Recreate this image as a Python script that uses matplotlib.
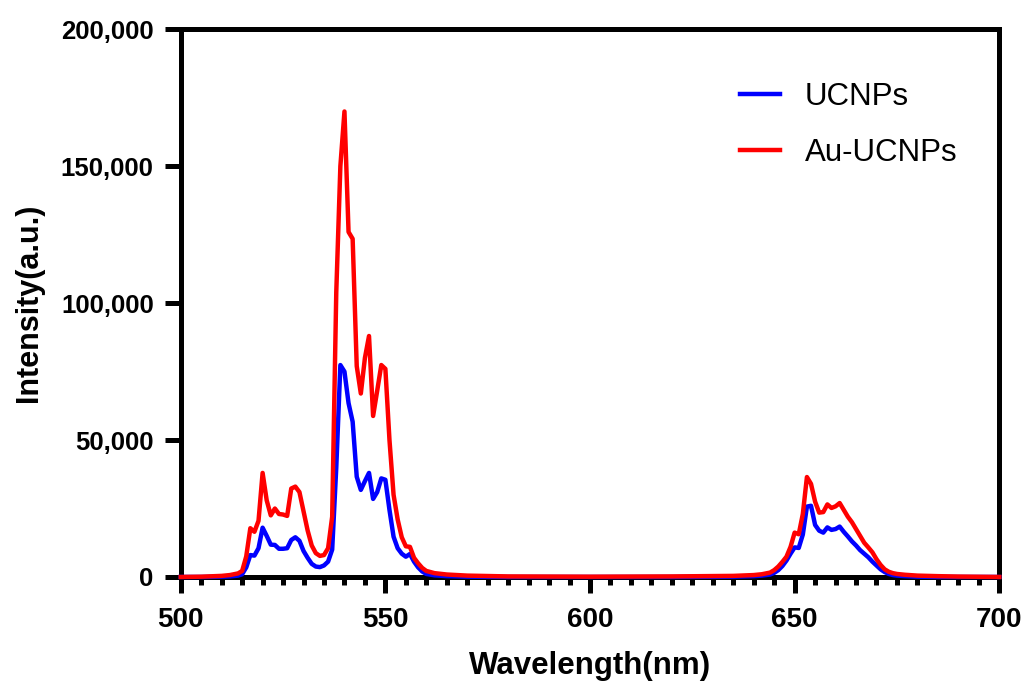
import numpy as np
import matplotlib
matplotlib.use('Agg')
import matplotlib.pyplot as plt
from matplotlib.ticker import MultipleLocator, FuncFormatter

# wavelengths (nm) and intensities
wavelength = [500, 505, 510, 512, 514, 515, 516, 517, 518, 519, 520, 521, 522, 523, 524,
              525, 526, 527, 528, 529, 530, 531, 532, 533, 534, 535, 536, 537, 538, 539,
              540, 541, 542, 543, 544, 545, 546, 547, 548, 549, 550, 551, 552, 553, 554,
              555, 556, 557, 558, 559, 560, 562, 565, 570, 580, 600, 620, 635, 640, 642,
              644, 645, 646, 647, 648, 649, 650, 651, 652, 653, 654, 655, 656, 657, 658,
              659, 660, 661, 662, 663, 664, 665, 666, 667, 668, 669, 670, 671, 672, 673,
              674, 675, 677, 680, 685, 690, 700]

ucnps = [0, 0, 100, 200, 500, 1000, 3500, 8000, 7800, 10500, 18000, 15000, 11800, 11700, 10300,
         10300, 10500, 13500, 14500, 13200, 9500, 7000, 4800, 3800, 3600, 4200, 5600, 10000, 40000, 77400,
         75000, 63500, 56700, 36600, 31800, 35000, 38000, 28500, 31000, 36000, 35500, 24500, 14700, 10500, 8500,
         7400, 8400, 5600, 3500, 2000, 1100, 600, 300, 100, 0, 0, 0, 100, 300, 500,
         900, 1500, 2500, 4000, 6000, 8500, 10800, 10600, 15500, 25700, 26000, 19000, 16900, 16200, 18100,
         17200, 17500, 18400, 16500, 14800, 13000, 11500, 9800, 8500, 7200, 5600, 4200, 2800, 1800, 1100,
         700, 500, 300, 100, 0, 0, 0]

au_ucnps = [0, 100, 400, 700, 1300, 2200, 7500, 17800, 16500, 20500, 38000, 28000, 22500, 25000, 23000,
            22800, 22300, 32300, 33000, 31000, 24000, 17000, 11500, 8700, 7700, 8000, 10500, 22000, 104000, 150000,
            170000, 126000, 123500, 77000, 67000, 80000, 88000, 58800, 68000, 77400, 76000, 50000, 30000, 21000, 14500,
            11200, 11000, 7000, 5000, 3300, 2200, 1400, 900, 500, 200, 100, 200, 400, 700, 1000,
            1600, 2500, 3800, 5500, 7400, 11000, 16200, 15600, 23000, 36500, 34000, 27500, 23500, 23700, 26500,
            25200, 25800, 27000, 24500, 22000, 20000, 17500, 15000, 12500, 10800, 9000, 6500, 4400, 2800, 1900,
            1400, 1100, 800, 500, 300, 150, 0]

plt.rcParams['font.family'] = ['Liberation Sans', 'DejaVu Sans']

fig = plt.figure(figsize=(10.27, 6.82), dpi=100)
ax = fig.add_axes([0.176, 0.154, 0.797, 0.803])

ax.plot(wavelength, ucnps, color='#0000ff', lw=3.2, label='UCNPs', clip_on=False, zorder=5)
ax.plot(wavelength, au_ucnps, color='#ff0000', lw=3.2, label='Au-UCNPs', clip_on=False, zorder=6)

ax.set_xlim(500, 700)
ax.set_ylim(0, 200000)
ax.xaxis.set_major_locator(MultipleLocator(50))
ax.xaxis.set_minor_locator(MultipleLocator(5))
ax.yaxis.set_major_locator(MultipleLocator(50000))
ax.yaxis.set_major_formatter(FuncFormatter(lambda v, p: f'{int(v):,}'))

for s in ax.spines.values():
    s.set_linewidth(3.6)
ax.tick_params(which='major', direction='out', length=11.5, width=3.6)
ax.tick_params(axis='x', which='major', labelsize=20, pad=10)
ax.tick_params(axis='y', which='major', labelsize=18.5, pad=8)
ax.tick_params(axis='x', which='minor', direction='out', length=5.5, width=3.6)
for lab in ax.get_xticklabels() + ax.get_yticklabels():
    lab.set_fontweight('bold')

ax.set_xlabel('Wavelength(nm)', fontsize=22.5, fontweight='bold', labelpad=13)
ax.set_ylabel('Intensity(a.u.)', fontsize=22, fontweight='bold', labelpad=12)

ax.legend(loc='upper left', bbox_to_anchor=(0.683, 0.904), frameon=False, fontsize=22.5,
          borderpad=0, borderaxespad=0,
          handlelength=1.3, handletextpad=0.77, labelspacing=0.84)

fig.savefig('out.png', dpi=100)
